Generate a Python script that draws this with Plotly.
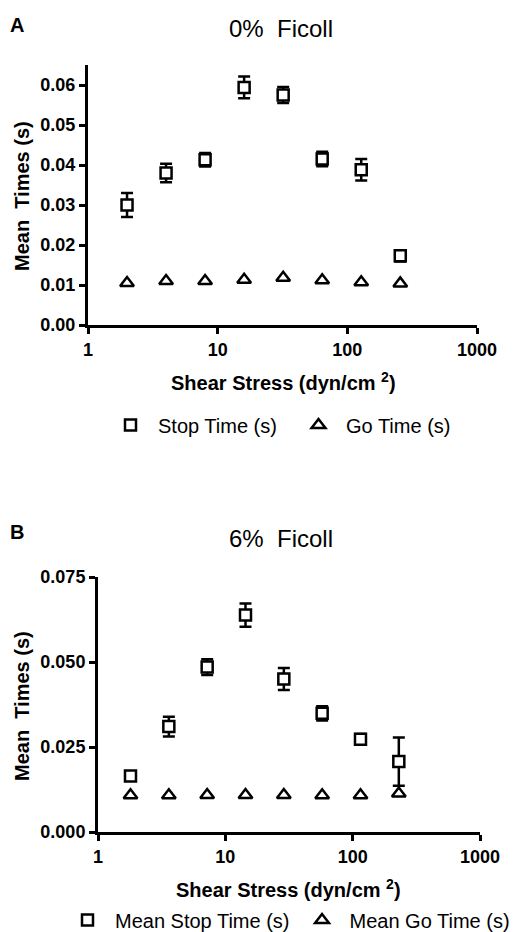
import plotly.graph_objects as go

# Panel A: 0% Ficoll
shear_a = [2, 4, 8, 16, 32, 64, 128, 256]
stop_a = [0.0300, 0.0380, 0.0413, 0.0594, 0.0575, 0.0415, 0.0388, 0.0173]
stop_a_err = [0.0030, 0.0023, 0.0017, 0.0027, 0.0020, 0.0018, 0.0027, 0.0014]
go_a = [0.0105, 0.0110, 0.0110, 0.0113, 0.0118, 0.0112, 0.0107, 0.0104]

# Panel B: 6% Ficoll
shear_b = [1.8, 3.6, 7.2, 14.4, 28.8, 57.6, 115.2, 230.4]
stop_b = [0.0165, 0.0310, 0.0485, 0.0638, 0.0450, 0.0349, 0.0273, 0.0207]
stop_b_err = [0.0010, 0.0029, 0.0023, 0.0034, 0.0032, 0.0021, 0.0015, 0.0071]
go_b = [0.0108, 0.0108, 0.0109, 0.0109, 0.0109, 0.0108, 0.0108, 0.0113]

x_ticks = [1, 10, 100, 1000]
y_ticks_a = [0.00, 0.01, 0.02, 0.03, 0.04, 0.05, 0.06]
y_ticks_b = [0.000, 0.025, 0.050, 0.075]

W, H = 517, 932
FONT = "Liberation Sans"

def py(p):
    return 1 - p / H

fig = go.Figure()

sq = dict(symbol="square", size=11, color="white", line=dict(color="black", width=2.5))
tri = dict(symbol="triangle-up", size=12, color="white", line=dict(color="black", width=2.5))
err = dict(color="black", thickness=2.5, width=6)

fig.add_trace(go.Scatter(x=shear_a, y=stop_a, mode="markers", marker=sq, name="Stop Time (s)",
                         error_y=dict(type="data", array=stop_a_err, **err),
                         xaxis="x", yaxis="y", legend="legend"))
fig.add_trace(go.Scatter(x=shear_a, y=go_a, mode="markers", marker=tri, name="Go Time (s)",
                         xaxis="x", yaxis="y", legend="legend"))
fig.add_trace(go.Scatter(x=shear_b, y=stop_b, mode="markers", marker=sq, name="Mean Stop Time (s)",
                         error_y=dict(type="data", array=stop_b_err, **err),
                         xaxis="x2", yaxis="y2", legend="legend2"))
fig.add_trace(go.Scatter(x=shear_b, y=go_b, mode="markers", marker=tri, name="Mean Go Time (s)",
                         xaxis="x2", yaxis="y2", legend="legend2"))

tickfont = dict(family=FONT, size=18, color="black", weight="bold")
axis_common = dict(showline=True, linewidth=3, linecolor="black", ticks="outside",
                   ticklen=6, tickwidth=2.5, tickcolor="black", showgrid=False,
                   zeroline=False, tickfont=tickfont)

legfont = dict(family=FONT, size=20, color="black")
fig.update_layout(
    width=W, height=H, margin=dict(l=0, r=0, t=0, b=0, autoexpand=False),
    paper_bgcolor="white", plot_bgcolor="white",
    xaxis=dict(type="log", range=[0, 3], tickvals=x_ticks, ticktext=[str(v) for v in x_ticks],
               domain=[88 / W, 477 / W], anchor="y", **axis_common),
    yaxis=dict(range=[0, 0.065], tickvals=y_ticks_a, tickformat=".2f",
               domain=[py(325), py(65)], anchor="x", **axis_common),
    xaxis2=dict(type="log", range=[0, 3], tickvals=x_ticks, ticktext=[str(v) for v in x_ticks],
                domain=[98 / W, 480 / W], anchor="y2", **axis_common),
    yaxis2=dict(range=[0, 0.075], tickvals=y_ticks_b, tickformat=".3f",
                domain=[py(832), py(577)], anchor="x2", **axis_common),
    legend=dict(orientation="h", x=103 / W, y=py(425), xanchor="left", yanchor="middle",
                xref="container", yref="container",
                font=legfont, bgcolor="rgba(0,0,0,0)", itemwidth=45, entrywidth=128),
    legend2=dict(orientation="h", x=60 / W, y=py(920), xanchor="left", yanchor="middle",
                 xref="container", yref="container",
                 font=legfont, bgcolor="rgba(0,0,0,0)", itemwidth=45),
)

ann = []
def text(x, y, s, size, bold=False, angle=0, xanchor="center"):
    ann.append(dict(x=x / W, y=py(y), xref="paper", yref="paper", text=s, showarrow=False,
                    xanchor=xanchor, yanchor="middle", textangle=angle,
                    font=dict(family=FONT, size=size, color="black", weight="bold" if bold else "normal")))

text(8, 25, "A", 20, bold=True, xanchor="left")
text(281, 28, "0%  Ficoll", 24)
text(22, 196, "Mean  Times (s)", 20, bold=True, angle=-90)
text(283, 382, "Shear Stress (dyn/cm <sup>2</sup>)", 20, bold=True)

text(8, 532, "B", 20, bold=True, xanchor="left")
text(281, 538, "6%  Ficoll", 24)
text(22, 706, "Mean  Times (s)", 20, bold=True, angle=-90)
text(288, 888, "Shear Stress (dyn/cm <sup>2</sup>)", 20, bold=True)

fig.update_layout(annotations=ann)
fig.write_html("out.html")
